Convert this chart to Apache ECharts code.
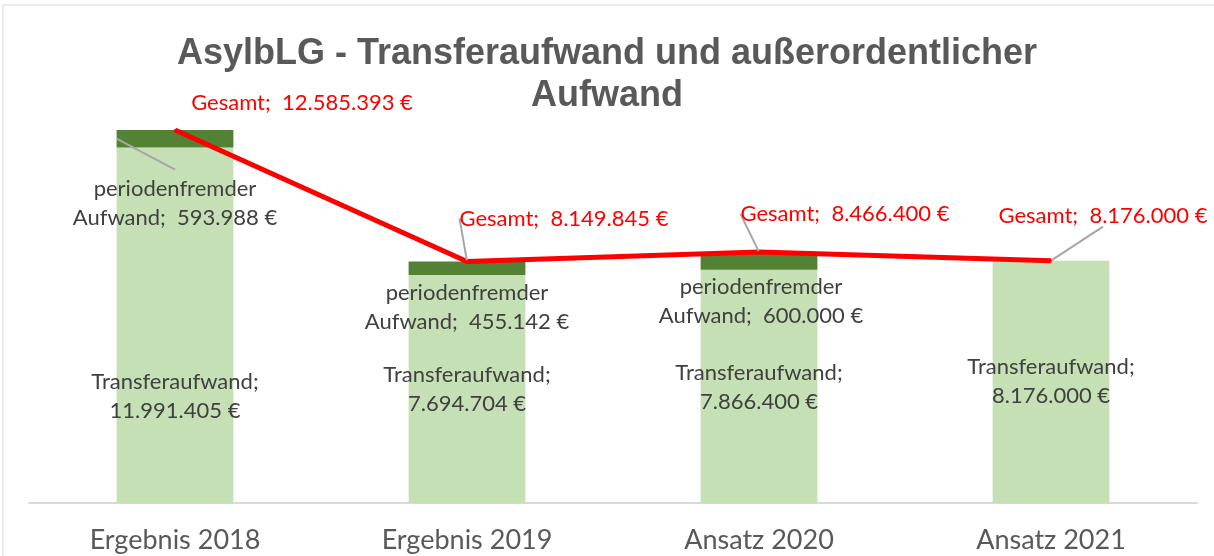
<!DOCTYPE html>
<html>
<head>
<meta charset="utf-8">
<script src="https://cdn.jsdelivr.net/npm/echarts@6/dist/echarts.min.js"></script>
<style>
  html, body { margin: 0; padding: 0; background: #fff; }
  #chart { width: 1214px; height: 556px; }
</style>
</head>
<body>
<div id="chart"></div>
<script>
// data
var categories = ['Ergebnis 2018', 'Ergebnis 2019', 'Ansatz 2020', 'Ansatz 2021'];
var transferaufwand = [11991405, 7694704, 7866400, 8176000];
var periodenfremd = [593988, 455142, 600000, '-'];
var gesamt = [12585393, 8149845, 8466400, 8176000];

// label offsets (px) from the mark centre
var transferOffset = [[0, 71], [0, 0], [0, 1], [0, 0]];
var periodOffset = [[0, 65], [0, 39], [2, 40], [0, 0]];
var gesamtOffset = [[127, -27], [97, -43], [86, -38], [52, -45]];

var labelFont = 'Lato, "Open Sans", sans-serif';

function euro(v) {
  return String(v).replace(/\B(?=(\d{3})+(?!\d))/g, '.') + ' €';
}

function placeAt(offsets) {
  return function (p) {
    var o = offsets[p.dataIndex];
    return {
      x: p.rect.x + p.rect.width / 2 + o[0],
      y: p.rect.y + p.rect.height / 2 + o[1],
      align: 'center',
      verticalAlign: 'middle'
    };
  };
}

var chart = echarts.init(document.getElementById('chart'));

var option = {
  animation: false,
  title: {
    text: 'AsylbLG - Transferaufwand und außerordentlicher\nAufwand',
    left: 'center',
    top: 28,
    textStyle: {
      fontFamily: '"Liberation Sans", Arial, sans-serif',
      fontWeight: 'bold',
      fontSize: 36,
      lineHeight: 42,
      color: '#595959'
    }
  },
  legend: { show: false },
  grid: { left: 29, right: 17, top: 88, bottom: 53 },
  xAxis: {
    type: 'category',
    data: categories,
    axisTick: { show: false },
    axisLine: { lineStyle: { color: '#d9d9d9', width: 2 } },
    axisLabel: {
      color: '#595959',
      fontSize: 27,
      fontFamily: labelFont,
      margin: 24
    }
  },
  yAxis: {
    type: 'value',
    min: 0,
    max: 14000000,
    show: false,
    splitLine: { show: false }
  },
  series: [
    {
      name: 'Transferaufwand',
      type: 'bar',
      stack: 'total',
      barWidth: '40%',
      data: transferaufwand,
      itemStyle: { color: '#c5e0b4' },
      label: {
        show: true,
        position: 'inside',
        color: '#404040',
        fontSize: 22,
        lineHeight: 29,
        fontFamily: labelFont,
        formatter: function (p) { return 'Transferaufwand;\n' + euro(p.value); }
      },
      labelLayout: placeAt(transferOffset)
    },
    {
      name: 'periodenfremder Aufwand',
      type: 'bar',
      stack: 'total',
      barWidth: '40%',
      data: periodenfremd,
      itemStyle: { color: '#548235' },
      label: {
        show: true,
        position: 'inside',
        color: '#404040',
        fontSize: 22,
        lineHeight: 29,
        fontFamily: labelFont,
        formatter: function (p) { return 'periodenfremder\nAufwand;  ' + euro(p.value); }
      },
      labelLayout: placeAt(periodOffset)
    },
    {
      name: 'Gesamt',
      type: 'line',
      data: gesamt.map(function (v, i) {
        return i === 0 ? { value: v, labelLine: { show: false } } : v;
      }),
      symbol: 'circle',
      symbolSize: 2,
      itemStyle: { color: '#ff0000' },
      lineStyle: { color: '#ff0000', width: 5 },
      z: 5,
      label: {
        show: true,
        color: '#ff0000',
        fontSize: 22,
        fontFamily: labelFont,
        formatter: function (p) { return 'Gesamt;  ' + euro(p.value); }
      },
      labelLine: { show: true, lineStyle: { color: '#a6a6a6', width: 2 } },
      labelLayout: placeAt(gesamtOffset)
    }
  ]
};

chart.setOption(option);

// frame and the leader line of the 2018 periodenfremder label
var segMid = chart.convertToPixel({ seriesIndex: 1 }, [0, transferaufwand[0] + periodenfremd[0] / 2]);
var halfBar = chart.convertToPixel({ xAxisIndex: 0 }, categories[1]) - chart.convertToPixel({ xAxisIndex: 0 }, categories[0]);
halfBar = halfBar * 0.2;
chart.setOption({
  graphic: [
    {
      type: 'rect',
      shape: { x: 3, y: 5, width: 1230, height: 570 },
      style: { fill: 'none', stroke: '#d9d9d9', lineWidth: 1 },
      silent: true
    },
    {
      type: 'line',
      z: 10,
      shape: {
        x1: segMid[0] - halfBar, y1: segMid[1],
        x2: segMid[0], y2: segMid[1] + periodOffset[0][1] - 34
      },
      style: { stroke: '#a6a6a6', lineWidth: 2 },
      silent: true
    }
  ]
});
</script>
</body>
</html>
